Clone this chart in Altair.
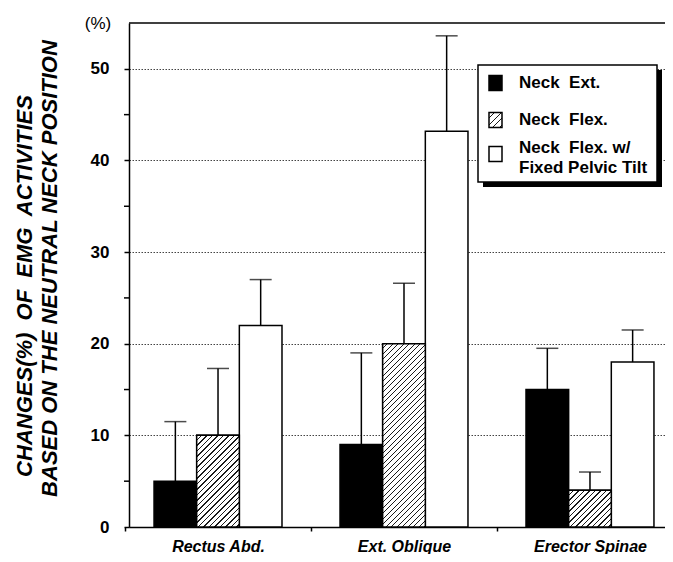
import math
import altair as alt
import pandas as pd

# ---------------- data ----------------
muscles = ["Rectus Abd.", "Ext. Oblique", "Erector Spinae"]
conditions = ["Neck Ext.", "Neck Flex.", "Neck Flex. w/ Fixed Pelvic Tilt"]
ext_mean = [5.0, 9.0, 15.0]
ext_sd = [6.5, 10.0, 4.5]
flex_mean = [10.0, 20.0, 4.0]
flex_sd = [7.3, 6.6, 2.0]
fixed_mean = [22.0, 43.2, 18.0]
fixed_sd = [5.0, 10.4, 3.5]
y_ticks = [0, 10, 20, 30, 40, 50]
minor_ticks = [5, 15, 25, 35, 45]
legend_lines = [["Neck\u00a0 Ext."], ["Neck\u00a0 Flex."], ["Neck\u00a0 Flex. w/", "Fixed Pelvic Tilt"]]
y_title_1 = "CHANGES(%)\u00a0 OF\u00a0 EMG\u00a0 ACTIVITIES"
y_title_2 = "BASED ON THE NEUTRAL NECK POSITION"
unit_label = "(%)"

rows = []
for means, sds, cond in [(ext_mean, ext_sd, conditions[0]),
                         (flex_mean, flex_sd, conditions[1]),
                         (fixed_mean, fixed_sd, conditions[2])]:
    for m, v, s in zip(muscles, means, sds):
        rows.append({"muscle": m, "condition": cond, "mean": v, "top": v + s})
df = pd.DataFrame(rows)

# ---------------- layout ----------------
W, H = 536, 504
YMAX = 55
FONT = "Liberation Sans"
PI, PO, AL = 0.312, 0.097, 0.694
step = W / (3 - PI + 2 * PO)
sub_w = step * (1 - PI) / 3


def hatch(w, h, period=5.5, frac=0.25, dark="#1a1a1a"):
    n = int(math.ceil((w + h) / period)) + 1
    c = period * n / (w * w + h * h)
    stops = []
    for k in range(n):
        a = k / n
        b = (k + 1 - frac) / n
        e = (k + 1) / n
        stops += [alt.GradientStop(offset=a, color="white"),
                  alt.GradientStop(offset=b, color="white"),
                  alt.GradientStop(offset=b, color=dark),
                  alt.GradientStop(offset=e, color=dark)]
    return alt.LinearGradient(gradient="linear", stops=stops, x1=0, y1=0, x2=c * w, y2=c * h)


yscale = alt.Scale(domain=[0, YMAX], nice=False)
x_enc = alt.X("muscle:N", sort=muscles,
              scale=alt.Scale(paddingInner=PI, paddingOuter=PO, align=AL),
              axis=alt.Axis(title=None, labelAngle=0, labelFont=FONT, labelFontSize=16,
                            labelFontWeight="bold", labelFontStyle="italic", labelColor="black",
                            domainColor="black", domainWidth=1.5, tickColor="black",
                            tickWidth=1.5, tickSize=4, tickOffset=-(step / 2),
                            labelOffset=step / 2, labelPadding=7))
xo_enc = alt.XOffset("condition:N", sort=conditions,
                     scale=alt.Scale(paddingInner=0, paddingOuter=0))
y_axis = alt.Axis(values=y_ticks, grid=True, gridDash=[1.5, 1.5], gridColor="#444",
                  gridWidth=1, domainColor="black", domainWidth=1.5, tickColor="black",
                  tickSize=5, tickWidth=1.5, labelFont=FONT, labelFontSize=17,
                  labelFontWeight="bold", labelColor="black", labelPadding=15,
                  title=y_title_2, titleFont=FONT, titleFontSize=22, titleFontStyle="italic",
                  titleFontWeight="bold", titleColor="black",
                  titleAngle=270, titleBaseline="middle", titleAlign="center",
                  titleX=-80, titleY=245)

base = alt.Chart(df)

bars = base.mark_bar(stroke="black", strokeWidth=1.5).encode(
    x=x_enc, xOffset=xo_enc,
    y=alt.Y("mean:Q", scale=yscale, axis=y_axis),
    fill=alt.Fill("condition:N", sort=conditions,
                  scale=alt.Scale(domain=conditions, range=["black", "white", "white"]),
                  legend=None),
)

hatched = []
for m, v in zip(muscles, flex_mean):
    hh = v * H / YMAX
    hatched.append(
        base.transform_filter(
            (alt.datum.muscle == m) & (alt.datum.condition == conditions[1])
        ).mark_bar(fill=hatch(sub_w, hh), stroke="black", strokeWidth=1.5).encode(
            x=alt.X("muscle:N", sort=muscles), xOffset=alt.XOffset("condition:N", sort=conditions),
            y=alt.Y("mean:Q", scale=yscale),
        )
    )

err = base.mark_rule(color="black", strokeWidth=1.5).encode(
    x=alt.X("muscle:N", sort=muscles), xOffset=alt.XOffset("condition:N", sort=conditions),
    y=alt.Y("mean:Q", scale=yscale), y2="top:Q",
)
caps = base.mark_tick(color="black", orient="horizontal", size=22, thickness=1.5).encode(
    x=alt.X("muscle:N", sort=muscles), xOffset=alt.XOffset("condition:N", sort=conditions),
    y=alt.Y("top:Q", scale=yscale),
)

minor = alt.Chart(pd.DataFrame({"v": minor_ticks})).mark_rule(
    color="black", strokeWidth=1.5).encode(
    y=alt.Y("v:Q", scale=yscale), x=alt.value(-5), x2=alt.value(0))

one = pd.DataFrame({"a": [0]})
top_line = alt.Chart(one).mark_rule(color="black", strokeWidth=1.5).encode(
    x=alt.value(0), x2=alt.value(W), y=alt.value(0))

unit = alt.Chart(pd.DataFrame({"t": [unit_label]})).mark_text(
    font=FONT, fontSize=17, color="black", align="center", baseline="middle").encode(
    text="t:N", x=alt.value(-31), y=alt.value(1))

title1 = alt.Chart(pd.DataFrame({"t": [y_title_1]})).mark_text(
    font=FONT, fontSize=22, fontStyle="italic", fontWeight="bold", color="black",
    angle=270, align="center", baseline="middle").encode(
    text="t:N", x=alt.value(-104), y=alt.value(263))

# ---------------- legend ----------------
LX0, LX1, LY0, LY1 = 349, 528, 42, 159
leg = [
    alt.Chart(one).mark_rect(color="black").encode(
        x=alt.value(LX0 + 5), x2=alt.value(LX1 + 5), y=alt.value(LY0 + 5), y2=alt.value(LY1 + 5)),
    alt.Chart(one).mark_rect(fill="white", stroke="black", strokeWidth=1.5).encode(
        x=alt.value(LX0), x2=alt.value(LX1), y=alt.value(LY0), y2=alt.value(LY1)),
]
sw_y = [60, 97, 131]
sw_fill = ["black", hatch(13, 15, period=6.5, frac=0.2), "white"]
for yc, f in zip(sw_y, sw_fill):
    leg.append(alt.Chart(one).mark_rect(fill=f, stroke="black", strokeWidth=1.5).encode(
        x=alt.value(360), x2=alt.value(373), y=alt.value(yc - 7.5), y2=alt.value(yc + 7.5)))
text_y = [[60], [97], [125, 145]]
for lines, ys in zip(legend_lines, text_y):
    for t, yy in zip(lines, ys):
        leg.append(alt.Chart(pd.DataFrame({"t": [t]})).mark_text(
            font=FONT, fontSize=17, fontWeight="bold", color="black",
            align="left", baseline="middle").encode(
            text="t:N", x=alt.value(390), y=alt.value(yy)))

chart = alt.layer(bars, *hatched, err, caps, minor, top_line, unit, title1, *leg).properties(
    width=W, height=H,
    autosize=alt.AutoSizeParams(type="none"),
    padding={"left": 121, "top": 15, "right": 0, "bottom": 27},
    background="white",
).configure_view(strokeWidth=0)

chart.save("out.html", embed_options={"renderer": "svg", "actions": False})
